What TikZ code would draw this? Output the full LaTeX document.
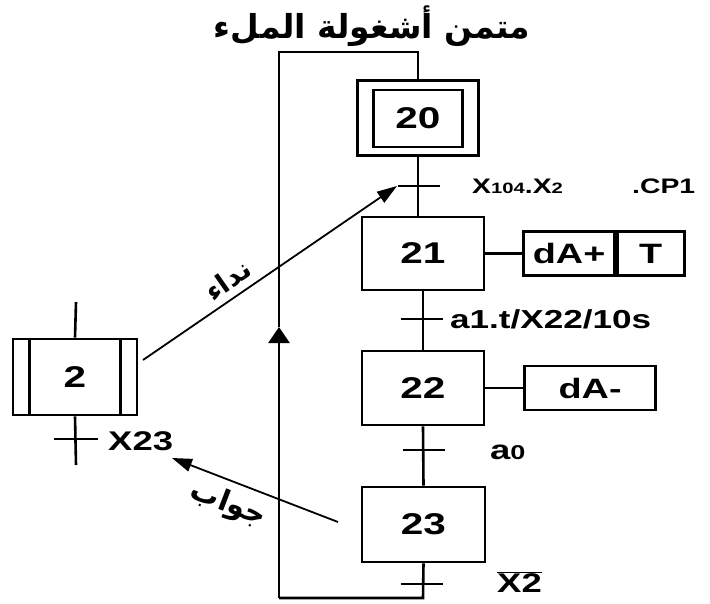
\documentclass[tikz,border=0pt]{standalone}
\usepackage{fontspec}
\setmainfont{Liberation Sans}[FakeStretch=1.35]
\newfontfamily\arabicfont[Script=Arabic]{DejaVu Sans}
\TeXXeTstate=1
\usetikzlibrary{arrows.meta, positioning, calc}
\newcommand{\smalldig}[1]{{\fontsize{15}{17}\selectfont #1}}
\tikzset{
    % step boxes
    stepbox/.style={
        rectangle,
        draw=black,
        line width=2.6pt,
        minimum width=122pt,
        minimum height=74pt,
        inner sep=0pt,
        font=\fontsize{30}{32}\selectfont\bfseries
    },
    innerbox/.style={
        rectangle,
        draw=black,
        line width=2.6pt,
        minimum width=89pt,
        minimum height=57pt,
        inner sep=0pt,
        font=\fontsize{30}{32}\selectfont\bfseries
    },
    actionbox/.style={
        rectangle,
        draw=black,
        line width=2.6pt,
        minimum height=44pt,
        inner sep=0pt,
        font=\fontsize{28}{30}\selectfont\bfseries
    },
    % links and transitions
    linkline/.style={
        draw=black,
        line width=2.6pt
    },
    condtext/.style={
        anchor=west,
        inner sep=0pt,
        font=\fontsize{21}{23}\selectfont\bfseries
    },
    bigcond/.style={
        condtext,
        font=\fontsize{27}{29}\selectfont\bfseries
    },
    % arrows
    myarrow/.style={
        draw=black,
        line width=1.8pt,
        -{Triangle[length=20pt,width=13pt]}
    },
    looparrow/.style={
        -{Triangle[length=16pt,width=21pt]}
    },
    arlabel/.style={
        inner sep=0pt,
        font=\arabicfont\bfseries\fontsize{29}{31}\selectfont
    }
}
\begin{document}
\begin{tikzpicture}[x=1pt,y=-1pt]
    \useasboundingbox (0,0) rectangle (710,603);
    % title
    \node[arlabel, font=\arabicfont\bfseries\fontsize{33}{36}\selectfont] (title) at (372,26) {\beginR متمن أشغولة الملء\endR};

    % main sequence
    \node[stepbox, minimum width=121pt, minimum height=75pt] (s20) at (418,118) {};
    \node[innerbox] (s20in) at (418,118.5) {20};
    \node[stepbox, minimum height=73pt] (s21) at (423,253.5) {21};
    \node[stepbox] (s22) at (423,388) {22};
    \node[stepbox, minimum width=123pt, minimum height=75pt] (s23) at (423.5,524.5) {23};

    % transitions
    \coordinate (t20) at (419,186);
    \coordinate (t21) at (421.5,319);
    \coordinate (t22) at (423.5,450);
    \coordinate (t23) at (421.5,584);
    \coordinate (t20w) at (397,186);

    \draw[linkline] (s20.south) -- (s20.south |- s21.north);
    \draw[linkline] (s21.south) -- (s22.north);
    \draw[linkline] (s22.south) -- (s23.north);
    \foreach \t in {t20,t21,t22,t23}
        \draw[linkline] ([xshift=-21pt]\t) -- ([xshift=21pt]\t);

    % loop back to 20
    \coordinate (lpbr) at (423,598);
    \coordinate (lpbl) at (279,598);
    \coordinate (lpup) at (279,327);
    \coordinate (lptl) at (279,52);
    \coordinate (lptr) at (418,52);
    \draw[linkline] (s23.south) -- (lpbr) -- (lpbl);
    \draw[linkline, looparrow] (lpbl) -- (lpup);
    \draw[linkline] (lpup) -- (lptl) -- (lptr) -- (s20.north);

    % actions
    \node[actionbox, minimum width=91pt, right=37pt of s21] (a21) {dA+};
    \node[actionbox, minimum width=67pt, right=0pt of a21] (a21t) {T};
    \node[actionbox, minimum width=131pt, right=38pt of s22] (a22) {dA-};
    \draw[linkline] (s21) -- (a21);
    \draw[linkline] (s22) -- (a22);

    % receptivities
    \node[condtext] (c20) at (472,186) {X\smalldig{104}.X\smalldig{2}};
    \node[condtext] (c20b) at (632,186) {.CP1};
    \node[condtext, font=\fontsize{26}{28}\selectfont\bfseries] (c21) at (450,319) {a1.t/X22/10s};
    \node[bigcond] (c22) at (490,452) {a{\fontsize{20}{22}\selectfont 0}};
    \node[bigcond] (c23) at (497,582) {$\overline{\hbox{X2}}$};

    % calling step
    \node[stepbox, minimum width=124pt, minimum height=76pt] (s2) at (75,377) {2};
    \draw[linkline] ([xshift=18pt]s2.north west) -- ([xshift=18pt]s2.south west);
    \draw[linkline] ([xshift=-18pt]s2.north east) -- ([xshift=-18pt]s2.south east);
    \coordinate (s2up) at (76,302);
    \coordinate (t2) at (76,439);
    \coordinate (s2dn) at (76,465);
    \draw[linkline] (s2up) -- (s2.north);
    \draw[linkline] (s2.south) -- (s2dn);
    \draw[linkline] ([xshift=-22pt]t2) -- ([xshift=22pt]t2);
    \node[bigcond] (c2) at (108,441) {X23};

    % call and answer
    \coordinate (s2out) at (143,360);
    \coordinate (s23out) at (338,522);
    \coordinate (c2in) at (172,458);
    \draw[myarrow] (s2out) -- (t20w);
    \draw[myarrow] (s23out) -- (c2in);
    \node[arlabel, rotate=35, font=\arabicfont\bfseries\fontsize{27}{29}\selectfont] (ncall) at (228,280) {\beginR نداء\endR};
    \node[arlabel, rotate=-21] (nreply) at (228,505) {\beginR جواب\endR};
\end{tikzpicture}
\end{document}
